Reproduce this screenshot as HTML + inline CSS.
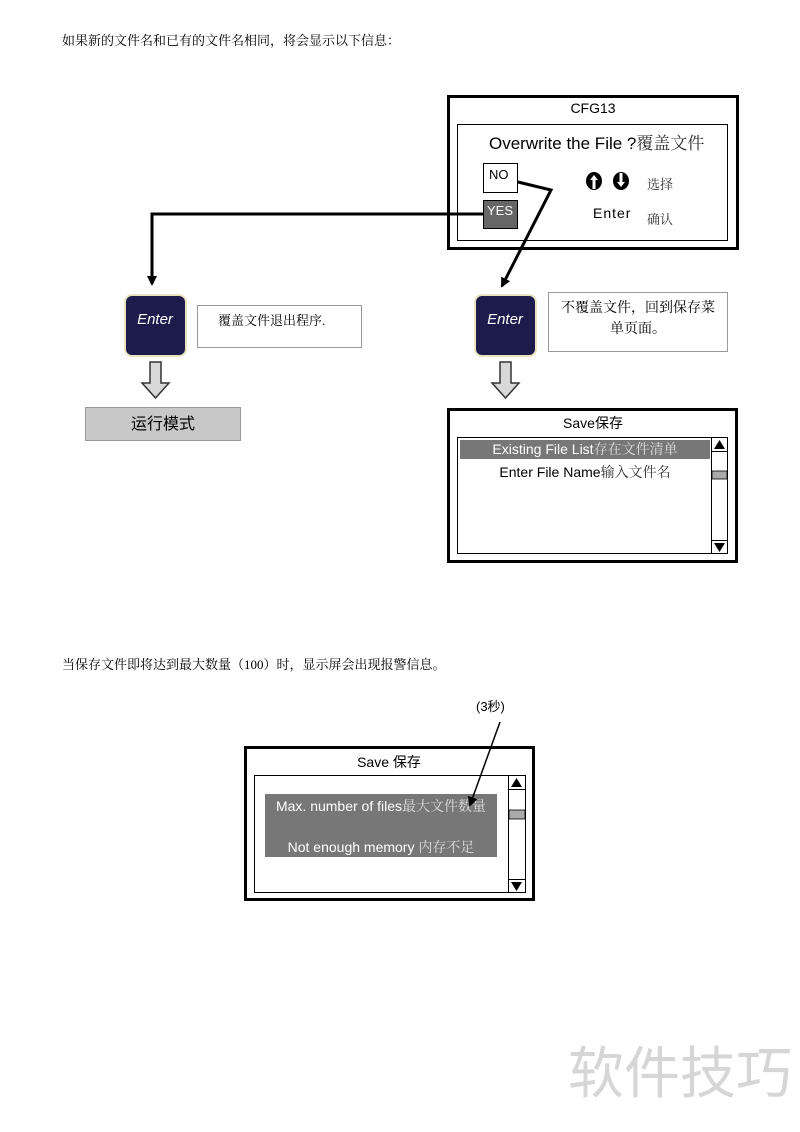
<!DOCTYPE html>
<html><head><meta charset="utf-8"><style>
html,body{margin:0;padding:0;background:#fff;}
svg{display:block;}
text{font-family:"Liberation Sans","Noto Sans CJK SC",sans-serif;}
.s{font-family:"Liberation Serif","Noto Serif CJK SC",serif;}
</style></head><body>
<svg width="800" height="1132" viewBox="0 0 800 1132" xmlns="http://www.w3.org/2000/svg">
<defs>
<marker id="ah" markerWidth="10" markerHeight="10" refX="8" refY="5" orient="auto" markerUnits="userSpaceOnUse">
<path d="M0,0 L10,5 L0,10 z" fill="#000"/></marker>
</defs>
<text x="62" y="45" font-size="13" class="s">如果新的文件名和已有的文件名相同，将会显示以下信息：</text>

<rect x="448.5" y="96.5" width="289" height="152" fill="#fff" stroke="#000" stroke-width="3"/>
<text x="593" y="113" font-size="14" text-anchor="middle">CFG13</text>
<rect x="457.5" y="124.5" width="270" height="116" fill="#fff" stroke="#000" stroke-width="1"/>
<text x="489" y="149" font-size="17">Overwrite the File ?<tspan class="s" fill="#333">覆盖文件</tspan></text>
<rect x="483.5" y="163.5" width="34" height="29" fill="#fff" stroke="#000"/>
<text x="489" y="179" font-size="13">NO</text>
<rect x="483.5" y="200.5" width="34" height="28" fill="#666" stroke="#000"/>
<text x="487" y="215" font-size="13" fill="#fff">YES</text>
<!-- up/down arrows -->
<ellipse cx="594" cy="181" rx="8" ry="9" fill="#000"/>
<path d="M594,175 l-4,5 h2.5 v9 h3 v-9 h2.5z" fill="#fff"/>
<ellipse cx="621" cy="181" rx="8" ry="9" fill="#000"/>
<path d="M621,187 l-4,-5 h2.5 v-9 h3 v9 h2.5z" fill="#fff"/>
<text x="647" y="189" font-size="13" class="s" fill="#333">选择</text>
<text x="593" y="218" font-size="14" letter-spacing="1">Enter</text>
<text x="647" y="224" font-size="13" class="s" fill="#333">确认</text>

<polyline points="483,214 152,214 152,284" fill="none" stroke="#000" stroke-width="3" marker-end="url(#ah)"/>
<polyline points="518,182 551,190 502,286" fill="none" stroke="#000" stroke-width="3" marker-end="url(#ah)"/>

<rect x="475" y="295" width="61" height="61" rx="7" fill="#1d1b4c" stroke="#e8e4c0" stroke-width="2"/>
<text x="505" y="324" font-size="15" fill="#fff" font-style="italic" text-anchor="middle">Enter</text>
<rect x="125" y="295" width="61" height="61" rx="7" fill="#1d1b4c" stroke="#e8e4c0" stroke-width="2"/>
<text x="155" y="324" font-size="15" fill="#fff" font-style="italic" text-anchor="middle">Enter</text>

<rect x="197.5" y="305.5" width="164" height="42" fill="#fff" stroke="#999"/>
<text x="218" y="325" font-size="13" class="s">覆盖文件退出程序.</text>
<rect x="548.5" y="292.5" width="179" height="59" fill="#fff" stroke="#999"/>
<text x="638" y="312" font-size="14" class="s" text-anchor="middle">不覆盖文件，回到保存菜</text>
<text x="638" y="333" font-size="14" class="s" text-anchor="middle">单页面。</text>

<path d="M150,362 h11 v21 h8 l-13.5,15 l-13.5,-15 h8z" fill="#d8d8d8" stroke="#333" stroke-width="1.5"/>
<path d="M500,362 h11 v21 h8 l-13.5,15 l-13.5,-15 h8z" fill="#d8d8d8" stroke="#333" stroke-width="1.5"/>

<rect x="85.5" y="407.5" width="155" height="33" fill="#c8c8c8" stroke="#999"/>
<text x="163" y="429" font-size="16" text-anchor="middle">运行模式</text>

<rect x="448.5" y="409.5" width="288" height="152" fill="#fff" stroke="#000" stroke-width="3"/>
<text x="593" y="428" font-size="14" text-anchor="middle">Save保存</text>
<rect x="457.5" y="437.5" width="270" height="116" fill="#fff" stroke="#000"/>
<rect x="460" y="440" width="250" height="19" fill="#777"/>
<text x="585" y="454" font-size="14" fill="#fff" text-anchor="middle">Existing File List<tspan class="s" fill="#ddd">存在文件清单</tspan></text>
<text x="585" y="477" font-size="14" text-anchor="middle">Enter File Name<tspan class="s" fill="#333">输入文件名</tspan></text>
<line x1="711.5" y1="437" x2="711.5" y2="554" stroke="#000"/>
<line x1="711" y1="451.5" x2="728" y2="451.5" stroke="#000"/>
<line x1="711" y1="540.5" x2="728" y2="540.5" stroke="#000"/>
<path d="M714,449 l5.5,-9 l5.5,9z" fill="#000"/>
<path d="M714,543 l5.5,9 l5.5,-9z" fill="#000"/>
<rect x="712" y="471" width="15" height="8" fill="#aaa" stroke="#000" stroke-width="0.8"/>

<text x="62" y="669" font-size="13" class="s">当保存文件即将达到最大数量（100）时，显示屏会出现报警信息。</text>

<text x="476" y="711" font-size="13">(3秒)</text>

<rect x="245.5" y="747.5" width="288" height="152" fill="#fff" stroke="#000" stroke-width="3"/>
<text x="389" y="767" font-size="14" text-anchor="middle">Save 保存</text>
<rect x="254.5" y="775.5" width="271" height="117" fill="#fff" stroke="#000"/>
<rect x="265" y="794" width="232" height="63" fill="#777"/>
<text x="381" y="811" font-size="14" fill="#fff" text-anchor="middle">Max. number of files<tspan class="s" fill="#ddd">最大文件数量</tspan></text>
<text x="381" y="852" font-size="14" fill="#fff" text-anchor="middle">Not enough memory <tspan class="s" fill="#ddd">内存不足</tspan></text>
<line x1="508.5" y1="775" x2="508.5" y2="892" stroke="#000"/>
<line x1="508" y1="789.5" x2="526" y2="789.5" stroke="#000"/>
<line x1="508" y1="879.5" x2="526" y2="879.5" stroke="#000"/>
<path d="M511,787 l5.5,-9 l5.5,9z" fill="#000"/>
<path d="M511,882 l5.5,9 l5.5,-9z" fill="#000"/>
<rect x="509" y="810" width="16" height="9" fill="#aaa" stroke="#000" stroke-width="0.8"/>

<line x1="500" y1="722" x2="470" y2="805" stroke="#000" stroke-width="1.5" marker-end="url(#ah)"/>

<text x="568" y="1093" font-size="56" fill="#d6d6d6">软件技巧</text>
</svg>
</body></html>
